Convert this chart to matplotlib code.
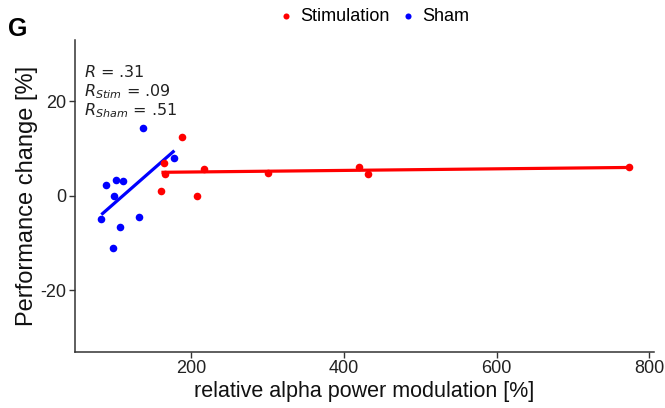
import numpy as np
import matplotlib
matplotlib.use("Agg")
import matplotlib.pyplot as plt

# Data
stim_x = [187.8, 165.0, 166.0, 161.1, 217.4, 207.9, 300.4, 420.0, 432.0, 772.7]
stim_y = [12.4, 6.9, 4.6, 1.1, 5.6, -0.1, 4.8, 6.1, 4.6, 6.2]
sham_x = [137.1, 178.1, 88.3, 101.8, 110.5, 99.5, 82.5, 107.4, 132.3, 97.8]
sham_y = [14.3, 8.1, 2.2, 3.3, 3.2, -0.1, -4.8, -6.5, -4.5, -11.0]
x_ticks = [200, 400, 600, 800]
y_ticks = [-20, 0, 20]

plt.rcParams['font.family'] = ['Liberation Sans', 'DejaVu Sans']
plt.rcParams['axes.unicode_minus'] = False

fig = plt.figure(figsize=(6.65, 4.08), dpi=100)
ax = fig.add_axes([0.1128, 0.138, 0.8707, 0.764])

red = '#ff0000'
blue = '#0000ff'

for xs, ys, c in [(stim_x, stim_y, red), (sham_x, sham_y, blue)]:
    xs = np.array(xs); ys = np.array(ys)
    k, b = np.polyfit(xs, ys, 1)
    xx = np.array([xs.min(), xs.max()])
    ax.plot(xx, k * xx + b, color=c, lw=2.3, zorder=2, solid_capstyle='butt')

ax.scatter(stim_x, stim_y, s=30, color=red, zorder=3, label='Stimulation', linewidths=0)
ax.scatter(sham_x, sham_y, s=30, color=blue, zorder=3, label='Sham', linewidths=0)

ax.set_xlim(48, 806)
ax.set_ylim(-33, 33)
ax.set_xticks(x_ticks)
ax.set_yticks(y_ticks)
for s in ['top', 'right']:
    ax.spines[s].set_visible(False)
for s in ['left', 'bottom']:
    ax.spines[s].set_linewidth(1.1)
    ax.spines[s].set_color('#333333')
ax.tick_params(axis='both', labelsize=13, length=4, width=1.0, color='#333333',
               labelcolor='#222222', pad=2)
ax.set_xlabel('relative alpha power modulation [%]', fontsize=15.5, color='#111111', labelpad=3)
ax.set_ylabel('Performance change [%]', fontsize=17, color='#111111', labelpad=2)

ax.text(0.015, 0.897, r'$\mathit{R}$ = .31', transform=ax.transAxes, fontsize=11.5,
        family='DejaVu Sans', color='#222222', va='center')
ax.text(0.015, 0.835, r'$\mathit{R}_{\mathit{Stim}}$ = .09', transform=ax.transAxes, fontsize=11.5,
        family='DejaVu Sans', color='#222222', va='center')
ax.text(0.015, 0.773, r'$\mathit{R}_{\mathit{Sham}}$ = .51', transform=ax.transAxes, fontsize=11.5,
        family='DejaVu Sans', color='#222222', va='center')

fig.text(0.012, 0.928, 'G', fontsize=18, fontweight='bold', va='center')

fig.legend(loc='center', bbox_to_anchor=(0.561, 0.96), ncol=2, frameon=False,
           fontsize=13, handletextpad=0.3, columnspacing=0.5, markerscale=0.8,
           handlelength=1.0)

fig.savefig('out.png', dpi=100)
